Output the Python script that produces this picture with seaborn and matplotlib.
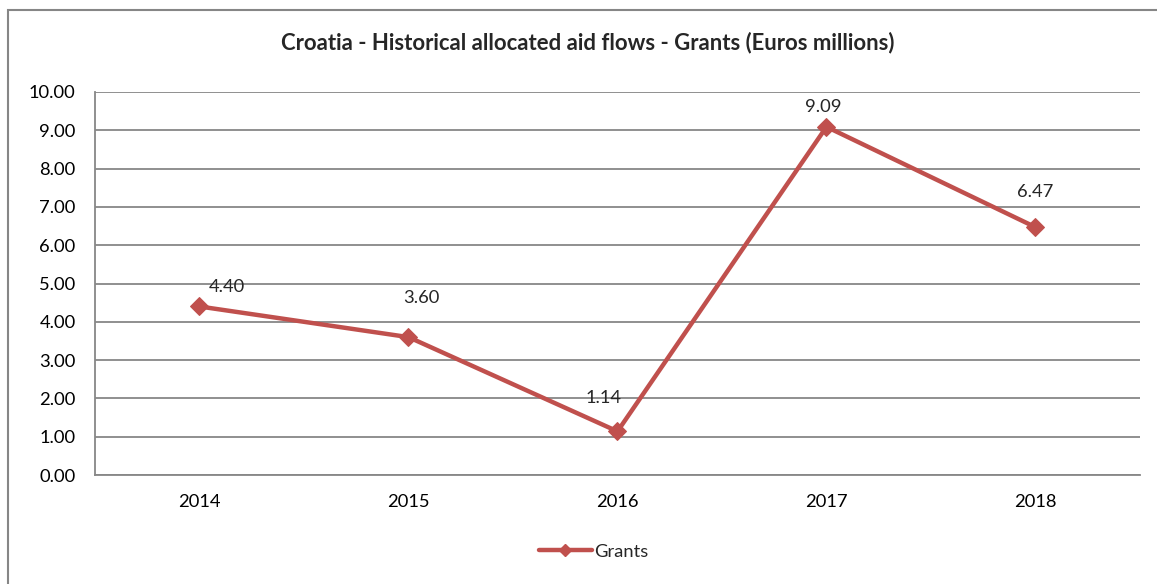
import matplotlib
matplotlib.use("Agg")
import matplotlib.pyplot as plt
import seaborn as sns
import pandas as pd
from matplotlib.patches import Rectangle
from matplotlib.lines import Line2D

years = ["2014", "2015", "2016", "2017", "2018"]
grants = [4.40, 3.60, 1.14, 9.09, 6.47]
y_ticks = [0, 1, 2, 3, 4, 5, 6, 7, 8, 9, 10]

# label offsets in points (layout only)
label_offsets = [(20, 14), (9, 28), (-10, 24), (-2, 14), (0, 25)]

line_color = "#C0504D"
grid_color = "#878787"

sns.set_style("white")
plt.rcParams["font.family"] = ["Lato", "DejaVu Sans"]

df = pd.DataFrame({"year": years, "grants": grants})

fig = plt.figure(figsize=(11.57, 5.84), dpi=100)
ax = fig.add_axes([0.0821, 0.1866, 0.9032, 0.6559])

sns.lineplot(data=df, x="year", y="grants", ax=ax, color=line_color,
             linewidth=3.2, marker="D", markersize=9, markeredgecolor=line_color,
             sort=False, legend=False)

ax.set_xlim(-0.5, len(years) - 0.5)
ax.set_ylim(0, 10)
ax.set_yticks(y_ticks)
ax.set_yticklabels([f"{v:.2f}" for v in y_ticks])
ax.set_xlabel("")
ax.set_ylabel("")
ax.tick_params(axis="both", length=0, labelsize=13.2, colors="black")
ax.tick_params(axis="x", pad=14)
ax.tick_params(axis="y", pad=14)

ax.grid(axis="y", color=grid_color, linewidth=1.3)
ax.set_axisbelow(True)
for side in ["top", "right"]:
    ax.spines[side].set_visible(False)
for side in ["left", "bottom"]:
    ax.spines[side].set_color(grid_color)
    ax.spines[side].set_linewidth(1.3)

for i, (v, off) in enumerate(zip(grants, label_offsets)):
    ax.annotate(f"{v:.2f}", (i, v), xytext=off, textcoords="offset points",
                ha="center", va="center", fontsize=13.2)

fig.suptitle("Croatia - Historical allocated aid flows - Grants (Euros millions)",
             x=0.508, y=0.945, fontsize=15.9, fontweight="bold")

handle = Line2D([], [], color=line_color, linewidth=3.2, marker="D",
                markersize=6, markeredgecolor=line_color)
ax.legend([handle], ["Grants"], loc="center", bbox_to_anchor=(0.477, -0.2),
          frameon=False, fontsize=13.2, handlelength=2.9, handletextpad=0.1)

# outer chart border
fig.patches.append(Rectangle((0.007, -0.05), 1.1, 1.033, transform=fig.transFigure,
                             fill=False, edgecolor="#868686", linewidth=1.5))

fig.savefig("out.png", dpi=100)
